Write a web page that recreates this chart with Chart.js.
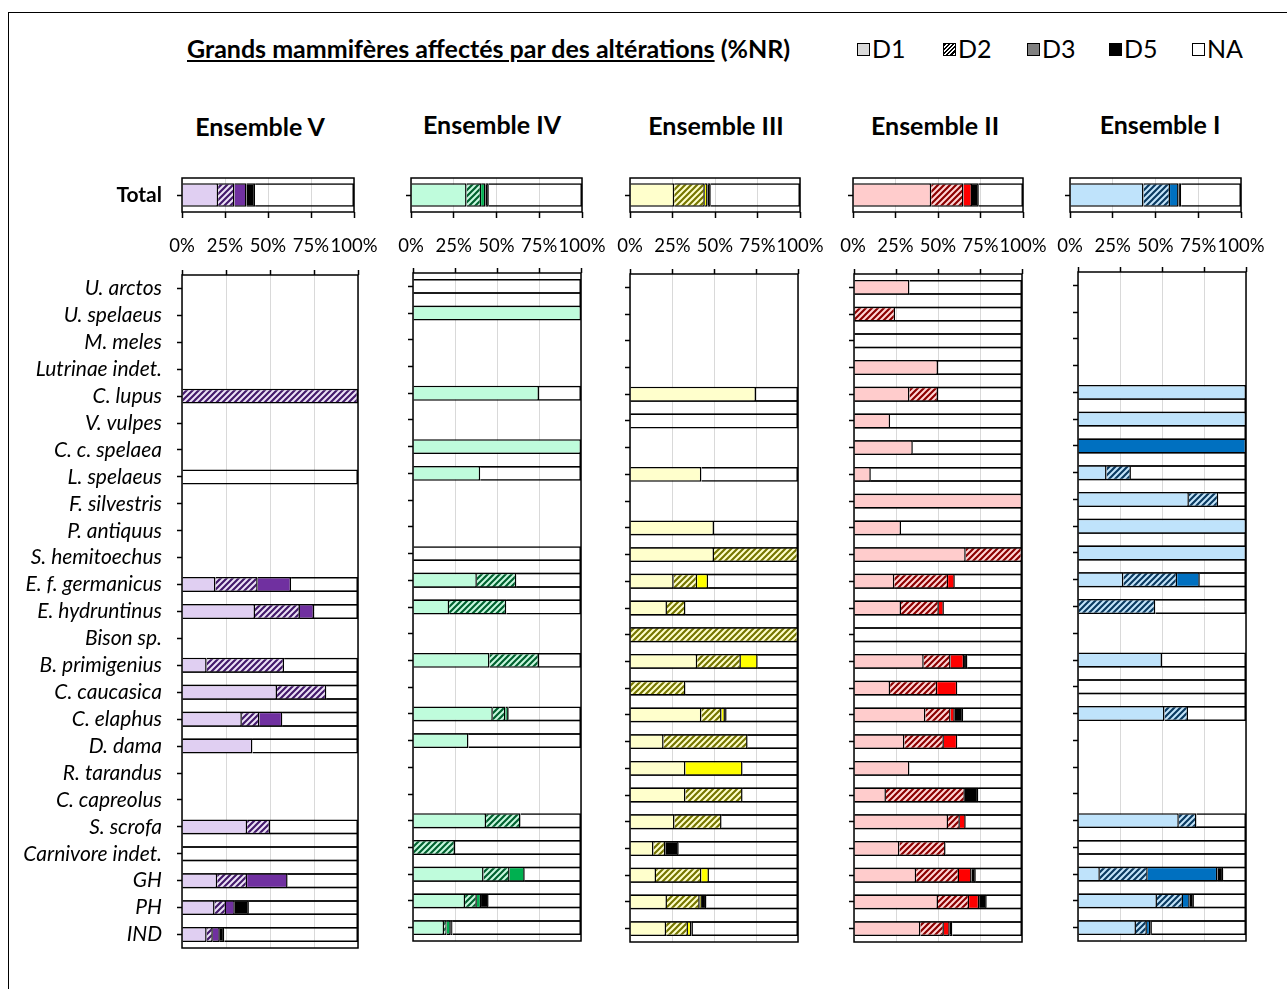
<!DOCTYPE html>
<html>
<head>
<meta charset="utf-8">
<script src="https://cdn.jsdelivr.net/npm/chart.js@4.4.1/dist/chart.umd.min.js"></script>
<style>
  html, body { margin: 0; padding: 0; background: #fff; overflow: hidden; }
  body { width: 1287px; height: 989px; position: relative; font-family: Lato, "Open Sans", sans-serif; color: #000; }
  .frame { position: absolute; left: 8px; top: 12px; width: 1400px; height: 1100px; border: 1.5px solid #000; box-sizing: border-box; }
  .txt { position: absolute; white-space: nowrap; line-height: 1; }
  .title { left: 187px; top: 36px; font-size: 25px; font-weight: bold; }
  .ens { font-size: 25px; font-weight: bold; transform: translateX(-50%); }
  .leg { top: 36px; font-size: 25px; display: flex; align-items: center; }
  .box { display: inline-block; width: 11px; height: 11px; border: 1.5px solid #000; margin-right: 2px; margin-top: 2px; }
  canvas { position: absolute; }
</style>
</head>
<body>
<div class="frame"></div>
<div class="txt title"><u>Grands mammifères affectés par des altérations</u> (%NR)</div>
<div class="txt leg" style="left:857px"><span class="box" style="background:#d9d9d9"></span>D1</div>
<div class="txt leg" style="left:943px"><span class="box" style="background:repeating-linear-gradient(135deg,#000 0 1.5px,#fff 1.5px 3px)"></span>D2</div>
<div class="txt leg" style="left:1027px"><span class="box" style="background:#808080"></span>D3</div>
<div class="txt leg" style="left:1109px"><span class="box" style="background:#000"></span>D5</div>
<div class="txt leg" style="left:1192px"><span class="box" style="background:#fff"></span>NA</div>
<script>
// ---- data (%NR) ----
const species = ['U. arctos', 'U. spelaeus', 'M. meles', 'Lutrinae indet.', 'C. lupus', 'V. vulpes',
  'C. c. spelaea', 'L. spelaeus', 'F. silvestris', 'P. antiquus', 'S. hemitoechus', 'E. f. germanicus',
  'E. hydruntinus', 'Bison sp.', 'B. primigenius', 'C. caucasica', 'C. elaphus', 'D. dama',
  'R. tarandus', 'C. capreolus', 'S. scrofa', 'Carnivore indet.', 'GH', 'PH', 'IND'];
const classes = ['D1', 'D2', 'D3', 'D5', 'NA'];
const xTicks = ['0%', '25%', '50%', '75%', '100%'];
const n = null;

// Ensemble V
const vD1 = [n,n,n,n, 0,n,n,0, n,n,n, 19,41.5, n, 14,54,34,40, n,n, 37,0,20,18.5,14];
const vD2 = [n,n,n,n, 100,n,n,0, n,n,n, 24,25.5, n, 44,28,10,0, n,n, 13,0,17,6.5,3.5];
const vD3 = [n,n,n,n, 0,n,n,0, n,n,n, 19,8, n, 0,0,13,0, n,n, 0,0,23,5,4];
const vD5 = [n,n,n,n, 0,n,n,0, n,n,n, 0,0, n, 0,0,0,0, n,n, 0,0,0,8,2.5];
const vNA = [n,n,n,n, 0,n,n,100, n,n,n, 38,25, n, 42,18,43,60, n,n, 50,100,40,62,76];
const totalV = [21, 9.5, 7, 5, 57.5];

// Ensemble IV
const ivD1 = [0,100,n,n, 75,n,100,40, n,n,0, 38,21.5, n, 45.5,n,47.5,33, n,n, 43.5,0,42,31,18.5];
const ivD2 = [0,0,n,n, 0,n,0,0, n,n,0, 23.5,34, n, 29.5,n,7.5,0, n,n, 20.5,25,15.5,7,1.5];
const ivD3 = [0,0,n,n, 0,n,0,0, n,n,0, 0,0, n, 0,n,1.5,0, n,n, 0,0,9,2.5,2.5];
const ivD5 = [0,0,n,n, 0,n,0,0, n,n,0, 0,0, n, 0,n,0.5,0, n,n, 0,0,0,4.5,1];
const ivNA = [100,0,n,n, 25,n,0,60, n,n,100, 38.5,44.5, n, 25,n,43,67, n,n, 36,75,33.5,55,76.5];
const totalIV = [32.5, 8.5, 2.5, 2, 54.5];

// Ensemble III
const iiiD1 = [n,n,n,n, 75,0,n,42.5, n,50,50, 26,22, 0, 40,0,42.5,20, 33,33, 26.5,14,15.5,22,21.5];
const iiiD2 = [n,n,n,n, 0,0,n,0, n,0,50, 14,11, 100, 26,33,12,50, 0,34, 28,7,27,19.5,13];
const iiiD3 = [n,n,n,n, 0,0,n,0, n,0,0, 6.5,0, 0, 10,0,2,0, 34,0, 0,0,4.5,0.8,2];
const iiiD5 = [n,n,n,n, 0,0,n,0, n,0,0, 0,0, 0, 0,0,1,0, 0,0, 0,8,0,3.2,1];
const iiiNA = [n,n,n,n, 25,100,n,57.5, n,50,0, 53.5,67, 0, 24,67,42.5,30, 33,33, 45.5,71,53,54.5,62.5];
const totalIII = [26, 18, 1.5, 2, 52.5];

// Ensemble II
const iiD1 = [33,0,0,50, 33,21.5,35,10, 100,28,66.5, 24,28, 0, 41.5,21.5,42.5,30, 33,19, 56,27,37,50,39.5];
const iiD2 = [0,24.5,0,0, 17,0,0,0, 0,0,33.5, 32,22.5, 0, 16,28,15,23.5, 0,47, 7,27.5,25.5,18.5,14];
const iiD3 = [0,0,0,0, 0,0,0,0, 0,0,0, 4,3, 0, 8,12,2.5,8, 0,0, 3.5,0,7.5,6,3.5];
const iiD5 = [0,0,0,0, 0,0,0,0, 0,0,0, 0,0, 0, 2,0,5,0, 0,8, 0,0,2.5,4.5,1.5];
const iiNA = [67,75.5,100,50, 50,78.5,65,90, 0,72,0, 40,46.5, 100, 32.5,38.5,35,38.5, 67,26, 33.5,45.5,27.5,21,41.5];
const totalII = [46, 19, 5, 4, 26];

// Ensemble I
const iD1 = [n,n,n,n, 100,100,0,17, 66,100,100, 27,0, n, 50,0,51.5,n, n,n, 60,0,13,47,34.5];
const iD2 = [n,n,n,n, 0,0,0,14.5, 17.5,0,0, 32,46, n, 0,0,14,n, n,n, 10.5,0,28.5,15.5,6.5];
const iD3 = [n,n,n,n, 0,0,100,0, 0,0,0, 13.5,0, n, 0,0,0,n, n,n, 0,0,41.5,4,2];
const iD5 = [n,n,n,n, 0,0,0,0, 0,0,0, 0,0, n, 0,0,0,n, n,n, 0,0,3.5,2.5,1];
const iNA = [n,n,n,n, 0,0,0,68.5, 16.5,0,0, 27.5,54, n, 50,100,34.5,n, n,n, 29.5,100,13.5,31,56];
const totalI = [43, 15.5, 5, 1.5, 35];

// ---- layout and colours ----
const panels = [
  { name: 'Ensemble V', cx: 260, ty: 114, data: [vD1, vD2, vD3, vD5, vNA], total: totalV, labels: true,
    plot: { left: 182, right: 358, top: 275, bottom: 948 }, tot: { left: 182, right: 354 },
    c1: '#e0cff2', c3: '#7030a0', hFg: '#43196a', hBg: '#ece2f6' },
  { name: 'Ensemble IV', cx: 492, ty: 112, data: [ivD1, ivD2, ivD3, ivD5, ivNA], total: totalIV,
    plot: { left: 413, right: 581, top: 273, bottom: 941 }, tot: { left: 411, right: 582 },
    c1: '#bffcdc', c3: '#00b050', hFg: '#00612f', hBg: '#c8f8df' },
  { name: 'Ensemble III', cx: 716, ty: 113, data: [iiiD1, iiiD2, iiiD3, iiiD5, iiiNA], total: totalIII,
    plot: { left: 630, right: 798, top: 274, bottom: 942 }, tot: { left: 630, right: 800 },
    c1: '#ffffcc', c3: '#ffff00', hFg: '#767600', hBg: '#ffffcc' },
  { name: 'Ensemble II', cx: 935, ty: 113, data: [iiD1, iiD2, iiD3, iiD5, iiNA], total: totalII,
    plot: { left: 854, right: 1022, top: 274, bottom: 942 }, tot: { left: 853, right: 1023 },
    c1: '#ffcccc', c3: '#ff0000', hFg: '#8c0000', hBg: '#ffd6d6' },
  { name: 'Ensemble I', cx: 1160, ty: 112, data: [iD1, iD2, iD3, iD5, iNA], total: totalI,
    plot: { left: 1078, right: 1246, top: 272, bottom: 941 }, tot: { left: 1070, right: 1241 },
    c1: '#bfe3fb', c3: '#0070c0', hFg: '#0a3a60', hBg: '#c4e5fb' }
];

Chart.defaults.font.family = 'Lato, "Open Sans", sans-serif';
Chart.defaults.color = '#000';

const framePlugin = {
  id: 'frame',
  afterDatasetsDraw(chart) {
    const a = chart.chartArea, g = chart.ctx;
    g.save();
    g.strokeStyle = '#000';
    g.lineWidth = 1.5;
    g.strokeRect(a.left, a.top, a.right - a.left, a.bottom - a.top);
    g.restore();
  }
};

function hatch(fg, bg) {
  const c = document.createElement('canvas');
  c.width = 6; c.height = 6;
  const g = c.getContext('2d');
  g.fillStyle = bg;
  g.fillRect(0, 0, 6, 6);
  g.strokeStyle = fg;
  g.lineWidth = 2.2;
  g.beginPath();
  for (let k = -1; k <= 1; k++) {
    g.moveTo(k * 6 - 1, 7);
    g.lineTo(k * 6 + 7, -1);
  }
  g.stroke();
  return g.createPattern(c, 'repeat');
}

function makeCanvas(left, top, w, h) {
  const c = document.createElement('canvas');
  c.width = w; c.height = h;
  c.style.left = left + 'px';
  c.style.top = top + 'px';
  c.style.width = w + 'px';
  c.style.height = h + 'px';
  document.body.appendChild(c);
  return c;
}

function barStyle(fill, thick) {
  return { backgroundColor: fill, borderColor: '#000', borderWidth: 1.5, borderSkipped: 'start',
    inflateAmount: 0, barThickness: thick, clip: 0 };
}

panels.forEach(p => {
  const fills = [p.c1, hatch(p.hFg, p.hBg), p.c3, '#000', 'rgba(0,0,0,0)'];

  // heading
  const h = document.createElement('div');
  h.className = 'txt ens';
  h.style.left = p.cx + 'px';
  h.style.top = p.ty + 'px';
  h.textContent = p.name;
  document.body.appendChild(h);

  // ---- Total bar ----
  const tyW = p.labels ? p.tot.left : 22;
  const tc = makeCanvas(p.tot.left - tyW, 172, tyW + (p.tot.right - p.tot.left) + 30, 6 + 34 + 50);
  new Chart(tc, {
    type: 'bar',
    data: {
      datasets: p.total.map((v, k) => Object.assign({
        label: classes[k],
        data: v ? [{ x: v, y: 0 }] : []
      }, barStyle(fills[k], 23.5)))
    },
    options: {
      responsive: false, animation: false, indexAxis: 'y',
      layout: { padding: { top: 6, right: 30, bottom: 0, left: 0 } },
      plugins: { legend: { display: false }, tooltip: { enabled: false } },
      scales: {
        x: {
          position: 'bottom', stacked: true, min: 0, max: 100, offset: false,
          afterBuildTicks: s => { s.ticks = xTicks.map((t, i) => ({ value: i * 25 })); },
          ticks: { autoSkip: false, maxRotation: 0, minRotation: 0, padding: 17, font: { size: 18.5 },
            callback: (v, i) => xTicks[i] },
          grid: { color: '#d9d9d9', tickColor: '#000', tickLength: 6, tickWidth: 1.5 },
          border: { display: false },
          afterFit: s => { s.height = 50; s.paddingLeft = 0; s.paddingRight = 0; }
        },
        y: {
          type: 'linear', stacked: true, reverse: true, min: -1, max: 1, offset: false,
          afterBuildTicks: s => { s.ticks = [{ value: 0 }]; },
          ticks: { display: !!p.labels, autoSkip: false, padding: 15, font: { size: 21, weight: 'bold' },
            callback: () => 'Total' },
          grid: { offset: false, drawOnChartArea: false, tickColor: '#000', tickLength: 5, tickWidth: 1.5 },
          border: { display: false },
          afterFit: s => { s.width = tyW; s.paddingTop = 0; s.paddingBottom = 0; }
        }
      }
    },
    plugins: [framePlugin]
  });

  // ---- species bars ----
  const yW = p.labels ? p.plot.left : 10;
  const pw = p.plot.right - p.plot.left, ph = p.plot.bottom - p.plot.top;
  const unit = ph / 50;
  const present = species.map((s, i) => p.data.some(arr => arr[i] != null));
  const datasets = p.data.map((arr, k) => Object.assign({
    label: classes[k],
    data: arr.map((v, i) => ({ x: v, y: 2 * i + 1 })).filter(d => d.x)
  }, barStyle(fills[k], unit + 1.5)));
  // empty separator row drawn between two neighbouring bars
  datasets.push(Object.assign({
    label: 'sep',
    data: species.slice(0, -1).map((s, i) => present[i] && present[i + 1] ? { x: 100, y: 2 * i + 2 } : null).filter(Boolean)
  }, barStyle('rgba(0,0,0,0)', unit + 1.5)));

  const mc = makeCanvas(p.plot.left - yW, p.plot.top - 10, yW + pw + 4, 10 + ph + 4);
  new Chart(mc, {
    type: 'bar',
    data: { datasets },
    options: {
      responsive: false, animation: false, indexAxis: 'y',
      layout: { padding: { top: 0, right: 4, bottom: 4, left: 0 } },
      plugins: { legend: { display: false }, tooltip: { enabled: false } },
      scales: {
        x: {
          position: 'top', stacked: true, min: 0, max: 100, offset: false,
          afterBuildTicks: s => { s.ticks = xTicks.map((t, i) => ({ value: i * 25 })); },
          ticks: { display: false },
          grid: { color: '#d9d9d9', tickColor: '#000', tickLength: 5, tickWidth: 1.5 },
          border: { display: false },
          afterFit: s => { s.height = 10; s.paddingLeft = 0; s.paddingRight = 0; }
        },
        y: {
          type: 'linear', stacked: true, reverse: true, min: 0, max: 50, offset: false,
          afterBuildTicks: s => { s.ticks = species.map((t, i) => ({ value: 2 * i + 1 })); },
          ticks: { display: !!p.labels, autoSkip: false, padding: 15, font: { size: 21, style: 'italic' },
            callback: v => species[(v - 1) / 2] },
          grid: { offset: false, drawOnChartArea: false, tickColor: '#000', tickLength: 5, tickWidth: 1.5 },
          border: { display: false },
          afterFit: s => { s.width = yW; s.paddingTop = 0; s.paddingBottom = 0; }
        }
      }
    },
    plugins: [framePlugin]
  });
});
</script>
</body>
</html>
